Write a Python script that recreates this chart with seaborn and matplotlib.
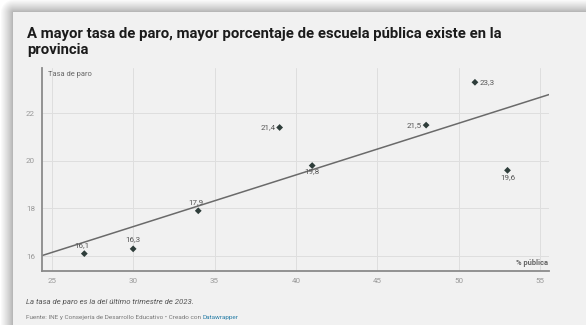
import numpy as np
import pandas as pd
import matplotlib
matplotlib.use("Agg")
import matplotlib.pyplot as plt
import seaborn as sns

# ---- data ----
pct_publica = [27, 30, 34, 39, 41, 48, 51, 53]
tasa_paro = [16.1, 16.3, 17.9, 21.4, 19.8, 21.5, 23.3, 19.6]
point_labels = ["16,1", "16,3", "17,9", "21,4", "19,8", "21,5", "23,3", "19,6"]
x_ticks = [25, 30, 35, 40, 45, 50, 55]
y_ticks = [16, 18, 20, 22]
y_tick_labels = ["16", "18", "20", "22"]

title = "A mayor tasa de paro, mayor porcentaje de escuela pública existe en la\nprovincia"
note = "La tasa de paro es la del último trimestre de 2023."
source = "Fuente: INE y Consejería de Desarrollo Educativo • Creado con "
credit = "Datawrapper"

df = pd.DataFrame({"x": pct_publica, "y": tasa_paro, "lab": point_labels})

sns.set_style("white")
plt.rcParams["font.family"] = ["Roboto", "DejaVu Sans"]

W, H = 586, 325
fig = plt.figure(figsize=(W / 100, H / 100), dpi=100)
fig.patch.set_facecolor("white")

# background: shadow + card
bg = fig.add_axes([0, 0, 1, 1], zorder=-10)
bg.set_xlim(0, W)
bg.set_ylim(H, 0)
bg.axis("off")
img = np.ones((H, W, 3))
yy, xx = np.mgrid[0:H, 0:W]
card_x, card_y = 13, 12
dx = np.clip(card_x - xx, 0, None)
dy = np.clip(card_y - yy, 0, None)
d = np.sqrt(dx ** 2 + dy ** 2)
shade = 0.68 + 0.32 * np.clip(d / 13.0, 0, 1) ** 0.8
for c in range(3):
    img[:, :, c] = shade
inside = (xx >= card_x) & (yy >= card_y)
img[inside] = np.array([241, 241, 241]) / 255
bg.imshow(img, extent=(0, W, H, 0), aspect="auto", interpolation="bilinear")

# title and footer
fig.text(27 / W, 1 - 27 / H, title, ha="left", va="top", fontsize=10.75,
         fontweight="bold", color="#1b1b1b", linespacing=1.2)
fig.text(26 / W, 1 - 302 / H, note, ha="left", va="center", fontsize=5.6,
         style="italic", color="#555555")
t = fig.text(26 / W, 1 - 318 / H, source, ha="left", va="center",
             fontsize=4.6, color="#777777")
fig.canvas.draw()
bb = t.get_window_extent()
fig.text(bb.x1 / W, 1 - 318 / H, credit, ha="left", va="center",
         fontsize=4.6, color="#2a7fa8")

# chart
ax = fig.add_axes([42 / W, 1 - 271 / H, (549 - 42) / W, (271 - 68) / H])
ax.set_facecolor("none")
ax.set_xlim(24.4, 55.55)
ax.set_ylim(15.37, 23.9)

sns.regplot(data=df, x="x", y="y", ax=ax, ci=None, scatter=False,
            truncate=False, line_kws={"color": "#6a6a6a", "lw": 1.1})
sns.scatterplot(data=df, x="x", y="y", ax=ax, marker="D", s=12,
                color="#2e3d3a", edgecolor="none", zorder=5)

offsets = {
    "16,1": (-2, 4, "center", "bottom"),
    "16,3": (0, 5, "center", "bottom"),
    "17,9": (-2, 4, "center", "bottom"),
    "21,4": (-3, 0, "right", "center"),
    "19,8": (0, -2, "center", "top"),
    "21,5": (-3, 0, "right", "center"),
    "23,3": (3, 0, "left", "center"),
    "19,6": (0, -3, "center", "top"),
}
for _, r in df.iterrows():
    ox, oy, ha, va = offsets[r["lab"]]
    ax.annotate(r["lab"], (r["x"], r["y"]), xytext=(ox, oy),
                textcoords="offset points", ha=ha, va=va,
                fontsize=5.8, color="#555555", zorder=6)

ax.set_xticks(x_ticks)
ax.set_yticks(y_ticks)
ax.set_yticklabels(y_tick_labels)
ax.tick_params(axis="both", length=0, labelsize=5.8, labelcolor="#999999")
ax.tick_params(axis="y", pad=5)
ax.tick_params(axis="x", pad=5)
ax.grid(True, color="#dedede", lw=0.7)
ax.set_axisbelow(True)
for s in ["top", "right"]:
    ax.spines[s].set_visible(False)
for s in ["left", "bottom"]:
    ax.spines[s].set_color("#8a8a8a")
    ax.spines[s].set_linewidth(1.3)
ax.set_xlabel("")
ax.set_ylabel("")
ax.text(0.012, 0.985, "Tasa de paro", transform=ax.transAxes, ha="left",
        va="top", fontsize=5.4, color="#666666")
ax.text(0.998, 0.02, "% pública", transform=ax.transAxes, ha="right",
        va="bottom", fontsize=5.4, color="#666666", fontweight="bold")

fig.savefig("out.png", dpi=100)
